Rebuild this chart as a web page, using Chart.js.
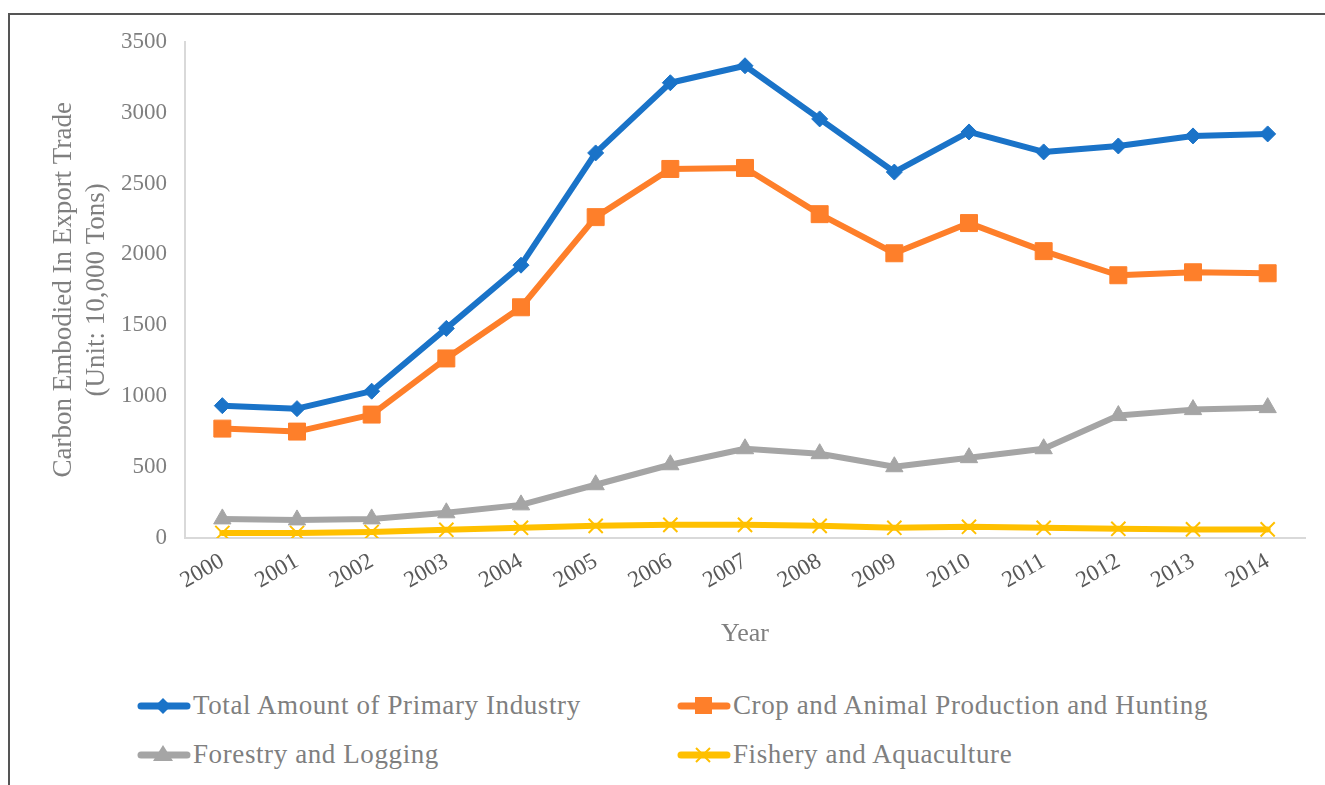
<!DOCTYPE html>
<html lang="en">
<head>
    <meta charset="UTF-8">
    <title>Carbon Embodied In Export Trade</title>
    <script src="https://cdn.jsdelivr.net/npm/chart.js"></script>
    <style>
        body {
            margin: 0;
            background: #fff;
            font-family: "Liberation Serif", serif;
        }
        .frame {
            position: absolute;
            left: 8px;
            top: 13px;
            width: 1330px;
            height: 790px;
            border-left: 2px solid #555;
            border-top: 2px solid #555;
        }
        .chart-box {
            position: absolute;
            left: 10px;
            top: 10px;
            width: 1315px;
            height: 644px;
        }
        .legend {
            position: absolute;
            left: 137px;
            top: 690px;
            width: 1150px;
        }
        .legend-item {
            position: absolute;
            display: flex;
            align-items: center;
            font-size: 27px;
            letter-spacing: 0.6px;
            color: #7f7f7f;
            white-space: nowrap;
        }
        .legend-item svg {
            margin-right: 2px;
        }
    </style>
</head>
<body>
    <div class="frame"></div>
    <div class="chart-box">
        <canvas id="chart"></canvas>
    </div>
    <div class="legend" id="legend"></div>

    <script>
        // data
        const years = ['2000', '2001', '2002', '2003', '2004', '2005', '2006', '2007',
                       '2008', '2009', '2010', '2011', '2012', '2013', '2014'];
        const totalPrimary = [933, 912, 1035, 1478, 1924, 2716, 3211, 3331, 2956, 2581, 2864, 2723, 2765, 2836, 2850];
        const cropAnimal = [771, 750, 870, 1266, 1627, 2263, 2603, 2610, 2284, 2008, 2221, 2023, 1853, 1874, 1867];
        const forestry = [134, 127, 134, 177, 233, 375, 516, 629, 594, 502, 566, 629, 863, 905, 919];
        const fishery = [35, 35, 42, 57, 71, 85, 92, 92, 85, 71, 78, 71, 64, 60, 60];
        const seriesNames = ['Total Amount of Primary Industry', 'Crop and Animal Production and Hunting',
                             'Forestry and Logging', 'Fishery and Aquaculture'];

        const textGray = '#7f7f7f';
        const axisGray = '#d9d9d9';
        const serif = '"Liberation Serif", serif';

        function lineSet(label, data, color, style, radius, bw) {
            return {
                label: label,
                data: data,
                borderColor: color,
                backgroundColor: color,
                borderWidth: 6,
                pointStyle: style,
                pointRadius: radius,
                pointHoverRadius: radius,
                pointBorderWidth: bw,
                pointBorderColor: color,
                pointBackgroundColor: color,
                tension: 0,
                borderJoinStyle: 'round',
                borderCapStyle: 'round'
            };
        }

        const datasets = [
            lineSet(seriesNames[0], totalPrimary, '#1a73c8', 'rectRot', 8, 1),
            lineSet(seriesNames[1], cropAnimal, '#fe7f2a', 'rect', 12, 1),
            lineSet(seriesNames[2], forestry, '#a5a5a5', 'triangle', 10, 1),
            lineSet(seriesNames[3], fishery, '#ffc000', 'crossRot', 10, 2)
        ];

        const ctx = document.getElementById('chart').getContext('2d');
        new Chart(ctx, {
            type: 'line',
            data: { labels: years, datasets: datasets },
            options: {
                responsive: true,
                maintainAspectRatio: false,
                animation: false,
                layout: { padding: { top: 2, right: 20, left: 34, bottom: 0 } },
                plugins: {
                    legend: { display: false },
                    tooltip: { enabled: false }
                },
                scales: {
                    x: {
                        offset: true,
                        grid: { display: false, drawTicks: false },
                        border: { color: axisGray, width: 2 },
                        ticks: {
                            color: '#595959',
                            font: { family: serif, size: 23 },
                            minRotation: 30,
                            maxRotation: 30,
                            padding: 10
                        },
                        title: {
                            display: true,
                            text: 'Year',
                            color: textGray,
                            font: { family: serif, size: 26 },
                            padding: { top: 14 }
                        }
                    },
                    y: {
                        min: 0,
                        max: 3500,
                        grid: { display: false, drawTicks: false },
                        border: { color: axisGray, width: 2 },
                        ticks: {
                            stepSize: 500,
                            color: textGray,
                            font: { family: serif, size: 23 },
                            padding: 18,
                            callback: v => String(v)
                        },
                        title: {
                            display: true,
                            text: ['Carbon Embodied In Export Trade', '(Unit: 10,000 Tons)'],
                            color: textGray,
                            font: { family: serif, size: 27, lineHeight: 1.2 },
                            padding: { bottom: 6 }
                        },
                        afterFit: function (scale) { scale.width = 141; }
                    }
                }
            }
        });

        // legend: two columns, drawn from the datasets
        const legendPos = [[0, 0], [540, 0], [0, 49], [540, 49]];
        const legend = document.getElementById('legend');
        function markerSvg(ds) {
            const c = ds.borderColor;
            let m = '';
            if (ds.pointStyle === 'rectRot') m = `<polygon points="26,6 34,14 26,22 18,14" fill="${c}"/>`;
            if (ds.pointStyle === 'rect') m = `<rect x="18" y="5" width="17" height="17" fill="${c}"/>`;
            if (ds.pointStyle === 'triangle') m = `<polygon points="26,4 36,20 16,20" fill="${c}"/>`;
            if (ds.pointStyle === 'crossRot') m = `<path d="M19,7 L33,21 M33,7 L19,21" stroke="${c}" stroke-width="2"/>`;
            return `<svg width="54" height="28"><line x1="4" y1="14" x2="50" y2="14" stroke="${c}" stroke-width="7" stroke-linecap="round"/>${m}</svg>`;
        }
        datasets.forEach((ds, i) => {
            const item = document.createElement('div');
            item.className = 'legend-item';
            item.style.left = legendPos[i][0] + 'px';
            item.style.top = legendPos[i][1] + 'px';
            item.innerHTML = markerSvg(ds) + '<span>' + ds.label + '</span>';
            legend.appendChild(item);
        });
    </script>
</body>
</html>
